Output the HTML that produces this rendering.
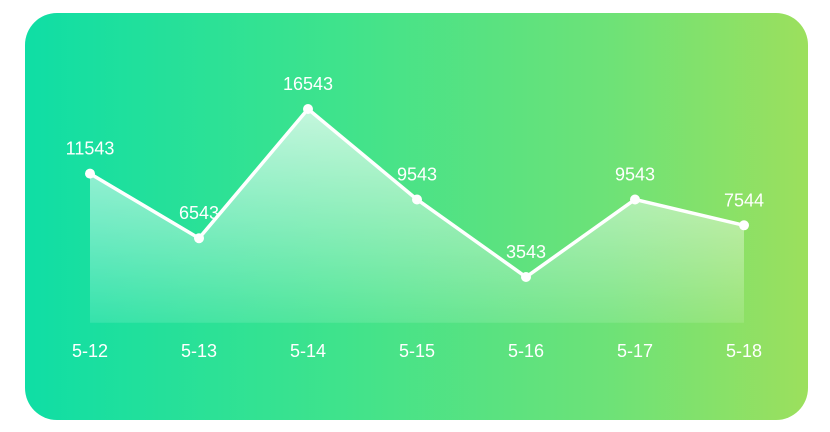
<!DOCTYPE html>
<html><head><meta charset="utf-8"><style>
html,body{margin:0;padding:0;background:#fff;width:830px;height:432px;overflow:hidden}
#card{position:absolute;left:25px;top:13px;width:783px;height:407px;border-radius:32px;background:linear-gradient(90deg,#0fdea5 0%,#3fe38c 40%,#6ee277 75%,#9ce05d 100%)}
svg{position:absolute;left:0;top:0}
text{font-family:"Liberation Sans","DejaVu Sans",sans-serif;fill:#fff}
</style></head><body>
<div id="card"></div>
<svg id="chart" width="830" height="432">
<defs><linearGradient id="ag" x1="0" y1="0" x2="0" y2="1">
<stop offset="0" stop-color="#fff" stop-opacity="0.7"/><stop offset="1" stop-color="#fff" stop-opacity="0.12"/></linearGradient></defs>
</svg>
<script>
const categories=["5-12","5-13","5-14","5-15","5-16","5-17","5-18"];
const values=[11543,6543,16543,9543,3543,9543,7544];
const svg=document.getElementById('chart');
const NS='http://www.w3.org/2000/svg';
const x0=90,dx=109,yZero=322.8,k=0.012923;
const X=i=>x0+i*dx, Y=v=>yZero-v*k;
function mk(t,a){const e=document.createElementNS(NS,t);for(const n in a)e.setAttribute(n,a[n]);svg.appendChild(e);return e;}
let d=`M${X(0)},${yZero}`;values.forEach((v,i)=>d+=` L${X(i)},${Y(v)}`);d+=` L${X(values.length-1)},${yZero} Z`;
const area=mk('path',{d,fill:'url(#ag)'});


const line=mk('polyline',{points:values.map((v,i)=>X(i)+','+Y(v)).join(' '),fill:'none',stroke:'#fff','stroke-width':3.5,'stroke-linejoin':'round'});


values.forEach((v,i)=>{
const c=mk('circle',{cx:X(i),cy:Y(v),r:5,fill:'#fff'});


const t=mk('text',{x:X(i),y:Y(v)-19,'text-anchor':'middle','font-size':18});
t.textContent=v;


const l=mk('text',{x:X(i),y:357,'text-anchor':'middle','font-size':18});
l.textContent=categories[i];


});
</script>
</body></html>
